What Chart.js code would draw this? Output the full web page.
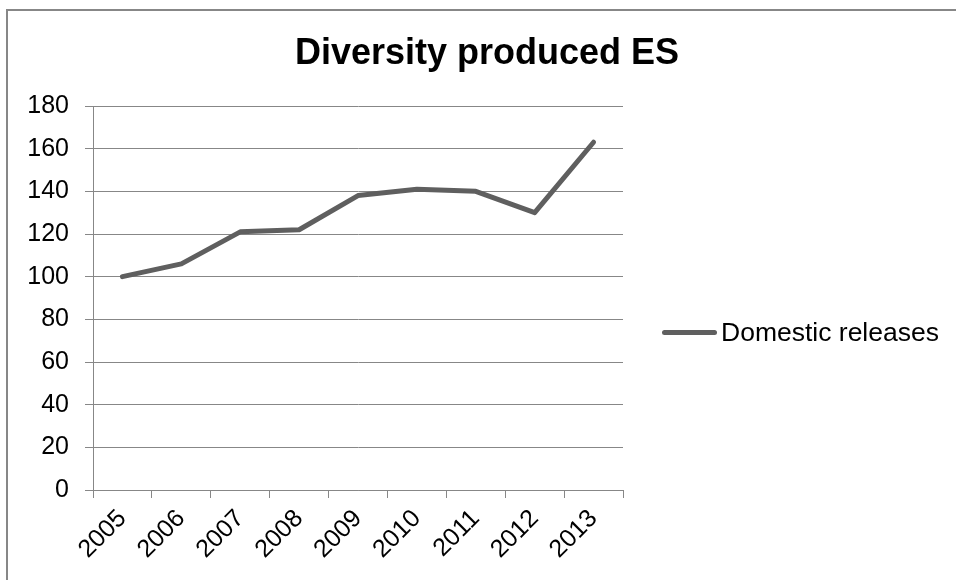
<!DOCTYPE html>
<html>
<head>
<meta charset="utf-8">
<script src="https://cdn.jsdelivr.net/npm/chart.js@4.4.0/dist/chart.umd.min.js"></script>
<style>
  body { margin: 0; background: #fff; }
  #wrap { position: relative; width: 956px; height: 580px; overflow: hidden; }
  #frame { position: absolute; left: 6px; top: 9px; width: 1200px; height: 1200px;
           border-left: 2px solid #878787; border-top: 2px solid #878787; pointer-events: none; }
  #title { position: absolute; left: 18px; top: 31px; width: 938px; line-height: 40px; text-align: center;
           font: bold 36px "Liberation Sans", Arial, sans-serif; color: #000; white-space: nowrap; }
  #legend { position: absolute; left: 662px; top: 317px; height: 30px; line-height: 30px; display: flex; align-items: center;
            font: 26.5px "Liberation Sans", Arial, sans-serif; color: #000; white-space: nowrap; }
  #legend .swatch { width: 55px; height: 5px; border-radius: 3px; margin-right: 4px; }
</style>
</head>
<body>
<div id="wrap">
  <canvas id="chart" width="956" height="580"></canvas>
  <div id="frame"></div>
  <div id="title"></div>
  <div id="legend"><span class="swatch"></span><span class="text"></span></div>
</div>
<script>
var chartTitle = 'Diversity produced ES';
var seriesName = 'Domestic releases';
var years = ['2005', '2006', '2007', '2008', '2009', '2010', '2011', '2012', '2013'];
var domesticReleases = [100, 106, 121, 122, 138, 141, 140, 130, 163];
var yMin = 0;
var yMax = 180;
var yStep = 20;

var lineColor = '#5f5f5f';
var gridColor = '#878787';
var fontFamily = '"Liberation Sans", Arial, sans-serif';

// title and legend are plain html around the canvas
document.querySelector('#title').textContent = chartTitle;
var legend = document.querySelector('#legend');
legend.querySelector('.swatch').style.background = lineColor;
legend.querySelector('.text').textContent = seriesName;

var ctx = document.getElementById('chart');

var releasesChart = new Chart(ctx, {
    type: 'line',
    data: {
        labels: years,
        datasets: [{
            label: seriesName,
            data: domesticReleases,
            borderColor: lineColor,
            backgroundColor: lineColor,
            borderWidth: 5,
            borderCapStyle: 'round',
            borderJoinStyle: 'round',
            pointRadius: 0,
            tension: 0
        }]
    },
    options: {
        responsive: false,
        animation: false,
        layout: {
            padding: { left: 0, right: 333, top: 106, bottom: 0 }
        },
        plugins: {
            legend: { display: false },
            tooltip: { enabled: false },
            title: { display: false }
        },
        scales: {
            x: {
                offset: true,
                grid: {
                    offset: true,
                    drawOnChartArea: false,
                    color: gridColor,
                    tickLength: 8,
                    tickColor: gridColor
                },
                border: { color: gridColor, width: 1 },
                ticks: {
                    color: '#000',
                    font: { family: fontFamily, size: 25 },
                    minRotation: 45,
                    maxRotation: 45,
                    padding: 6
                },
                afterFit: function (scale) { scale.height = 90; }
            },
            y: {
                min: yMin,
                max: yMax,
                grid: {
                    color: gridColor,
                    tickLength: 8,
                    tickColor: gridColor
                },
                border: { color: gridColor, width: 1 },
                ticks: {
                    stepSize: yStep,
                    color: '#000',
                    font: { family: fontFamily, size: 25 },
                    padding: 16
                },
                afterFit: function (scale) { scale.width = 93; }
            }
        }
    }
});
</script>
</body>
</html>
